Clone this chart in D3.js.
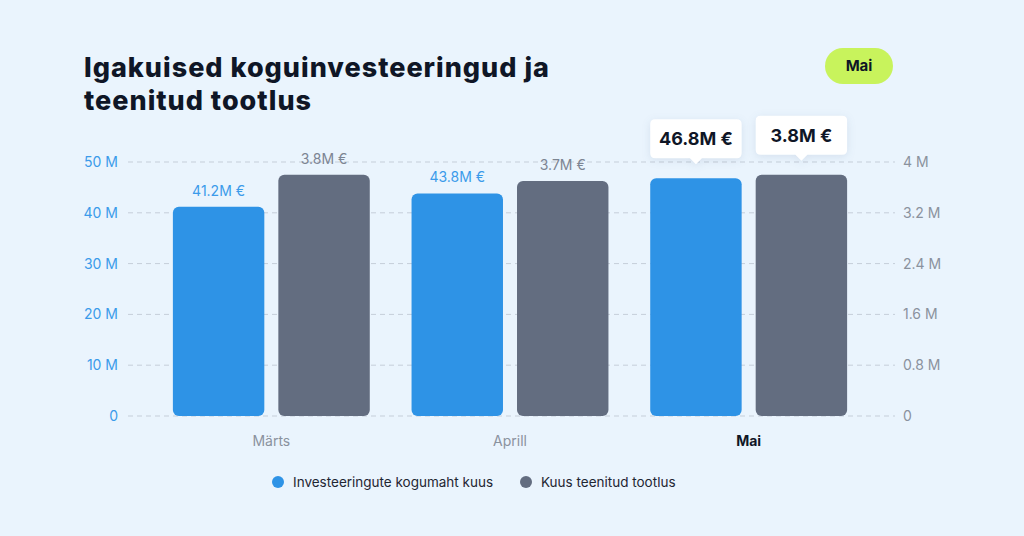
<!DOCTYPE html>
<html>
<head>
<meta charset="utf-8">
<script src="https://cdn.jsdelivr.net/npm/d3@7"></script>
<style>
  body { margin: 0; background: #eaf4fd; }
  svg { display: block; font-family: Inter, "Noto Sans", sans-serif; }
</style>
</head>
<body>
<div id="chart"></div>
<script>
// months and the two series
const months = ['Märts', 'Aprill', 'Mai'];
const investments = [41.2, 43.8, 46.8];   // M €, left axis
const returns = [3.8, 3.7, 3.8];          // M €, right axis
const leftTicks = [0, 10, 20, 30, 40, 50];
const rightTicks = [0, 0.8, 1.6, 2.4, 3.2, 4];
const seriesNames = ['Investeeringute kogumaht kuus', 'Kuus teenitud tootlus'];
const selected = 'Mai';

const w = 1024, h = 536;
const blue = '#2e93e6', grey = '#636d80';

const svg = d3.select('#chart').append('svg')
  .attr('width', w)
  .attr('height', h);

svg.append('rect').attr('width', w).attr('height', h).attr('fill', '#eaf4fd');

// title
const title = svg.append('text')
  .attr('fill', '#0f1626')
  .style('font-size', '27px')
  .style('font-weight', 800)
  .style('letter-spacing', '1px');
title.append('tspan').attr('x', 84).attr('y', 77).text('Igakuised koguinvesteeringud ja');
title.append('tspan').attr('x', 84).attr('y', 110).text('teenitud tootlus');

// selected month pill
svg.append('rect')
  .attr('x', 825).attr('y', 48)
  .attr('width', 68).attr('height', 36)
  .attr('rx', 18)
  .attr('fill', '#c8f35c');
svg.append('text')
  .attr('x', 859).attr('y', 71)
  .attr('text-anchor', 'middle')
  .attr('fill', '#0f1626')
  .style('font-size', '15px')
  .style('font-weight', 700)
  .text(selected);

// scales
const yLeft = d3.scaleLinear().domain([0, 50]).range([416, 162]);
const yRight = d3.scaleLinear().domain([0, 4]).range([416, 162]);
const x0 = d3.scaleBand().domain(months).range([152, 868])
  .paddingInner(0.175).paddingOuter(0.0875);
const x1 = d3.scaleBand().domain([0, 1]).range([0, x0.bandwidth()]).paddingInner(0.133);

// grid
svg.append('g')
  .selectAll('line')
  .data(leftTicks)
  .join('line')
  .attr('x1', 128).attr('x2', 895)
  .attr('y1', d => yLeft(d)).attr('y2', d => yLeft(d))
  .attr('stroke', '#c5ced9')
  .attr('stroke-width', 1)
  .attr('stroke-dasharray', '5,4');

// axes
const leftAxis = svg.append('g')
  .attr('transform', 'translate(118,0)')
  .call(d3.axisLeft(yLeft).tickValues(leftTicks).tickSize(0).tickPadding(0)
    .tickFormat(d => d === 0 ? '0' : d + ' M'));
leftAxis.select('.domain').remove();
leftAxis.selectAll('text')
  .attr('fill', '#3b9bea')
  .style('font-size', '14px')
  .style('font-family', 'Inter, "Noto Sans", sans-serif');

const rightAxis = svg.append('g')
  .attr('transform', 'translate(903,0)')
  .call(d3.axisRight(yRight).tickValues(rightTicks).tickSize(0).tickPadding(0)
    .tickFormat(d => d === 0 ? '0' : d + ' M'));
rightAxis.select('.domain').remove();
rightAxis.selectAll('text')
  .attr('fill', '#8a929e')
  .style('font-size', '14px')
  .style('font-family', 'Inter, "Noto Sans", sans-serif');

// bars
const rows = months.map((m, i) => ({
  month: m,
  vals: [
    { s: 0, v: investments[i], y: yLeft(investments[i]) },
    { s: 1, v: returns[i], y: yRight(returns[i]) }
  ]
}));

const groups = svg.append('g')
  .selectAll('g')
  .data(rows)
  .join('g')
  .attr('transform', d => `translate(${x0(d.month)},0)`);

groups.selectAll('rect')
  .data(d => d.vals)
  .join('rect')
  .attr('x', d => x1(d.s))
  .attr('y', d => d.y)
  .attr('width', x1.bandwidth())
  .attr('height', d => 416 - d.y)
  .attr('rx', 6)
  .attr('fill', d => d.s === 0 ? blue : grey);

// value labels for the non selected months
groups.filter(d => d.month !== selected)
  .selectAll('text')
  .data(d => d.vals)
  .join('text')
  .attr('x', d => x1(d.s) + x1.bandwidth() / 2)
  .attr('y', d => d.y - 11)
  .attr('text-anchor', 'middle')
  .attr('fill', d => d.s === 0 ? '#3b9bea' : '#7d8593')
  .style('font-size', '14px')
  .text(d => d.v.toFixed(1) + 'M €');

// callouts for the selected month
const callouts = groups.filter(d => d.month === selected)
  .selectAll('g')
  .data(d => d.vals)
  .join('g')
  .attr('transform', d => `translate(${x1(d.s)},${d.y - 14})`);

const bw = x1.bandwidth();
callouts.append('path')
  .attr('d', `M5,-45 H${bw - 5} Q${bw},-45 ${bw},-40 V-11 Q${bw},-6 ${bw - 5},-6 H${bw / 2 + 6} L${bw / 2},0 L${bw / 2 - 6},-6 H5 Q0,-6 0,-11 V-40 Q0,-45 5,-45 Z`)
  .attr('fill', '#ffffff')
  .style('filter', 'drop-shadow(0 2px 4px rgba(30,60,110,0.10))');
callouts.append('text')
  .attr('x', bw / 2)
  .attr('y', -19)
  .attr('text-anchor', 'middle')
  .attr('fill', '#0f1626')
  .style('font-size', '18px')
  .style('font-weight', 700)
  .text(d => d.v.toFixed(1) + 'M €');

// month labels
svg.append('g')
  .selectAll('text')
  .data(months)
  .join('text')
  .attr('x', d => x0(d) + x0.bandwidth() / 2)
  .attr('y', 446)
  .attr('text-anchor', 'middle')
  .attr('fill', d => d === selected ? '#0f1626' : '#8a929e')
  .style('font-size', '14px')
  .style('font-weight', d => d === selected ? 700 : 400)
  .text(d => d);

// legend
const legendX = [278, 526];
const legend = svg.append('g')
  .selectAll('g')
  .data(seriesNames)
  .join('g')
  .attr('transform', (d, i) => `translate(${legendX[i]},482)`);
legend.append('circle')
  .attr('r', 6)
  .attr('fill', (d, i) => i === 0 ? blue : grey);
legend.append('text')
  .attr('x', 15)
  .attr('y', 5)
  .attr('fill', '#1f2633')
  .style('font-size', '13.5px')
  .text(d => d);
</script>
</body>
</html>
